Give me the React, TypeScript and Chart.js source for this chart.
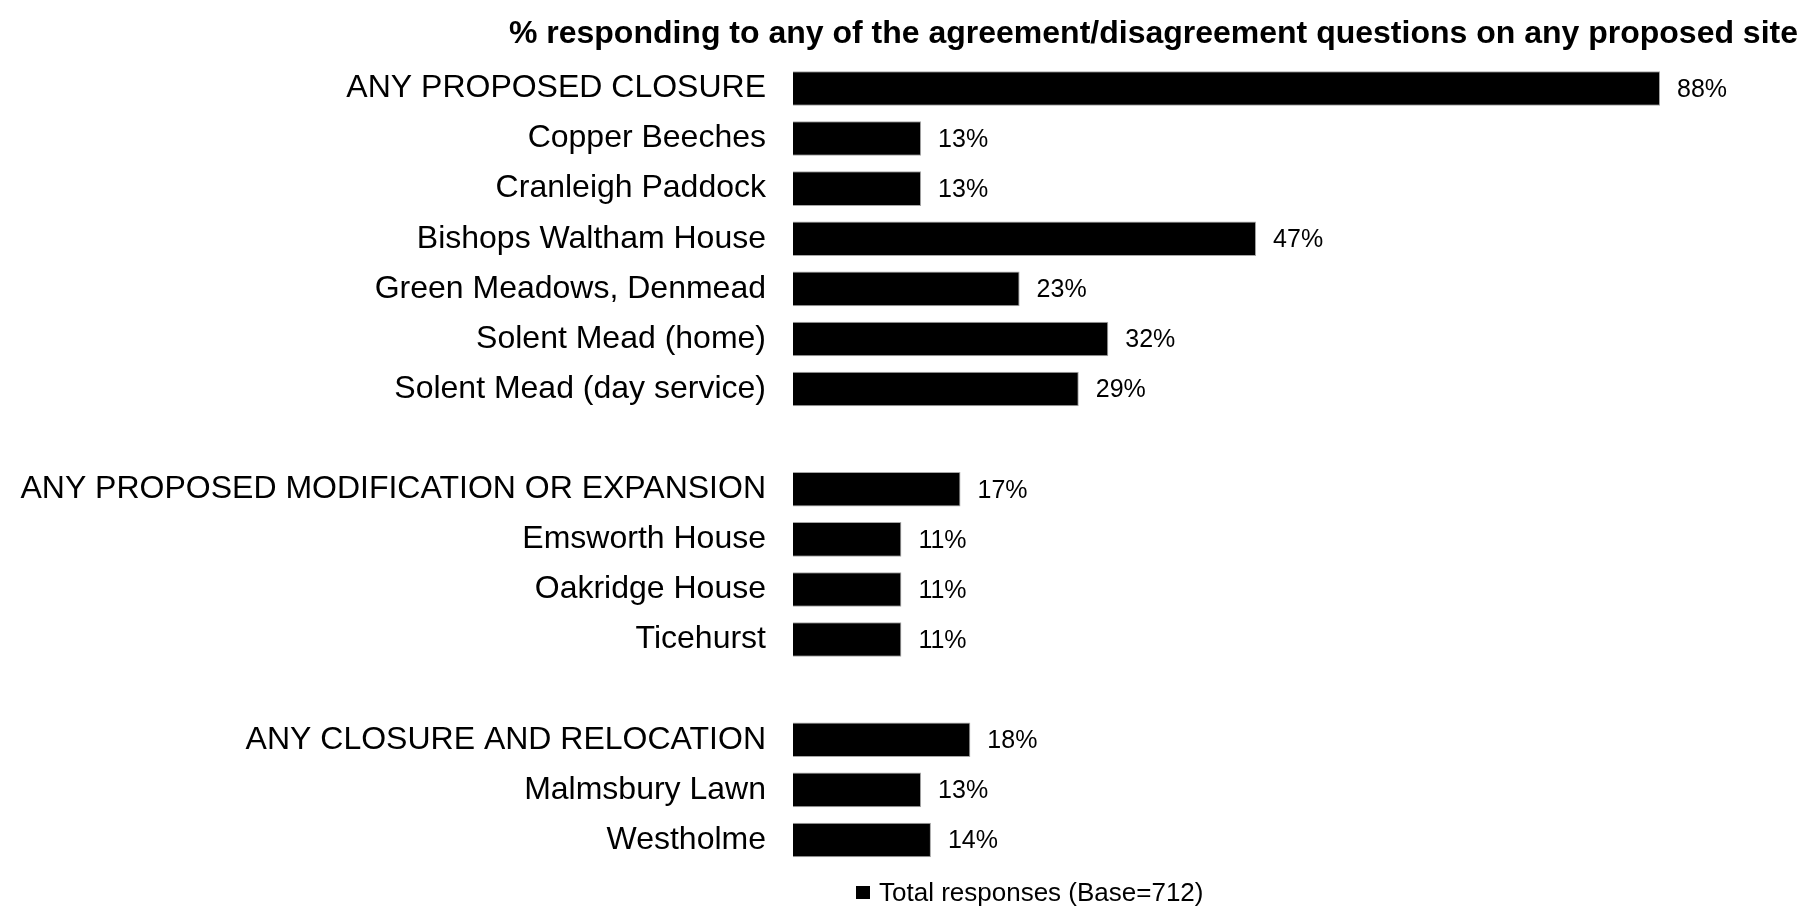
import React, { useEffect, useRef } from "react";
import { Chart, registerables } from "chart.js";

Chart.register(...registerables);

const categories: string[] = [
  "ANY PROPOSED CLOSURE",
  "Copper Beeches",
  "Cranleigh Paddock",
  "Bishops Waltham House",
  "Green Meadows, Denmead",
  "Solent Mead (home)",
  "Solent Mead (day service)",
  "",
  "ANY PROPOSED MODIFICATION OR EXPANSION",
  "Emsworth House",
  "Oakridge House",
  "Ticehurst",
  "",
  "ANY CLOSURE AND RELOCATION",
  "Malmsbury Lawn",
  "Westholme",
];

const totalResponses: (number | null)[] = [88, 13, 13, 47, 23, 32, 29, null, 17, 11, 11, 11, null, 18, 13, 14];

const seriesLabel = "Total responses (Base=712)";
const chartTitle = "% responding to any of the agreement/disagreement questions on any proposed site";

const FONT = "'Liberation Sans', Arial, sans-serif";

const valueLabelPlugin = {
  id: "valueLabels",
  afterDatasetsDraw(chart: any) {
    const ctx = chart.ctx;
    const meta = chart.getDatasetMeta(0);
    const data = chart.data.datasets[0].data;
    ctx.save();
    ctx.font = `25px ${FONT}`;
    ctx.fillStyle = "#000";
    ctx.textAlign = "left";
    ctx.textBaseline = "middle";
    meta.data.forEach((el: any, i: number) => {
      const v = data[i];
      if (v === null || v === undefined) return;
      ctx.fillText(`${v}%`, el.x + 17, el.y + 1.5);
    });
    ctx.restore();
  },
};

const customLegendPlugin = {
  id: "customLegend",
  afterDraw(chart: any) {
    const ctx = chart.ctx;
    ctx.save();
    const boxX = 848;
    const boxY = 878;
    const boxS = 13;
    ctx.fillStyle = "#000";
    ctx.fillRect(boxX, boxY, boxS + 1, boxS);
    ctx.font = `26px ${FONT}`;
    ctx.textAlign = "left";
    ctx.textBaseline = "alphabetic";
    ctx.fillText(chart.data.datasets[0].label, boxX + 23, 892.5);
    ctx.restore();
  },
};

export default function App() {
  const canvasRef = useRef<HTMLCanvasElement | null>(null);

  useEffect(() => {
    document.body.style.marginBottom = "0";
    if (!canvasRef.current) return;
    const chart = new Chart(canvasRef.current, {
      type: "bar",
      data: {
        labels: categories,
        datasets: [
          {
            label: seriesLabel,
            data: totalResponses,
            backgroundColor: "#000000",
            borderColor: "#a6a6a6",
            borderWidth: 1,
            barPercentage: 0.69,
            categoryPercentage: 1,
          },
        ],
      },
      options: {
        indexAxis: "y",
        responsive: false,
        animation: false,
        layout: { padding: { left: 0, right: 0, top: 0, bottom: 43 } },
        plugins: {
          legend: { display: false },
          tooltip: { enabled: false },
          title: {
            display: true,
            text: chartTitle,
            align: "end",
            color: "#000",
            font: { family: FONT, size: 32, weight: "bold" },
            padding: { top: 7, bottom: 10 },
          },
        },
        scales: {
          x: {
            display: false,
            min: 0,
            max: 102,
          },
          y: {
            grid: { display: false, drawTicks: false },
            border: { display: false },
            ticks: {
              color: "#000",
              font: { family: FONT, size: 32, lineHeight: 1 },
              padding: 27,
              autoSkip: false,
            },
            afterFit(scale: any) {
              scale.width = 785;
            },
          },
        },
      },
      plugins: [valueLabelPlugin, customLegendPlugin],
    });
    return () => chart.destroy();
  }, []);

  return (
    <div style={{ width: 1790, height: 900 }}>
      <canvas ref={canvasRef} width={1790} height={900} style={{ display: "block" }} />
    </div>
  );
}
